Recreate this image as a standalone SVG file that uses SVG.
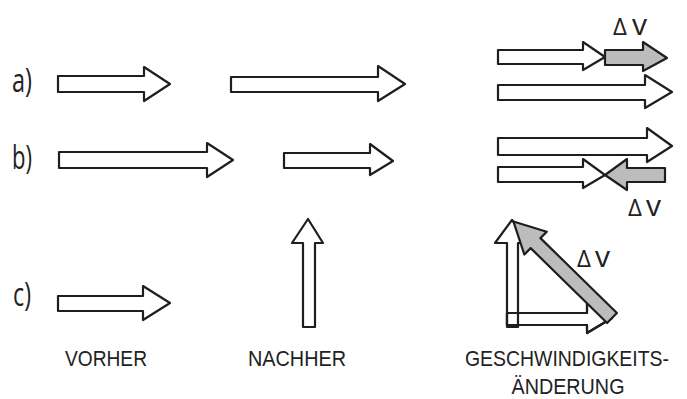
<svg xmlns="http://www.w3.org/2000/svg" width="687" height="399" viewBox="0 0 687 399">
<style>
.w{fill:#fff;stroke:#1e1e1e;stroke-width:2.2;stroke-linejoin:round}
.g{fill:#bcbcbc;stroke:#1e1e1e;stroke-width:2.2;stroke-linejoin:round}
.o{fill:none;stroke:#1e1e1e;stroke-width:2.2;stroke-linejoin:round}
.lbl{font-family:"Open Sans","Liberation Sans",sans-serif;font-weight:400;fill:#222}
.cap{font-family:"Liberation Sans",Arial,sans-serif;font-weight:400;fill:#222;font-size:21.5px}
.dv{font-family:"Open Sans","Liberation Sans",sans-serif;font-weight:400;fill:#222;font-size:24px}
</style>
<rect width="687" height="399" fill="#fff"/>
<g id="labels">
<text class="lbl" x="12" y="92" font-size="33" textLength="20" lengthAdjust="spacingAndGlyphs">a)</text>
<text class="lbl" x="12" y="169" font-size="33" textLength="20" lengthAdjust="spacingAndGlyphs">b)</text>
<text class="lbl" x="13" y="306" font-size="33" textLength="18" lengthAdjust="spacingAndGlyphs">c)</text>
<text class="cap" x="65" y="366" textLength="82" lengthAdjust="spacingAndGlyphs">VORHER</text>
<text class="cap" x="248" y="366" textLength="98" lengthAdjust="spacingAndGlyphs">NACHHER</text>
<text class="cap" x="567" y="366" text-anchor="middle" textLength="204" lengthAdjust="spacingAndGlyphs">GESCHWINDIGKEITS-</text>
<text class="cap" x="568" y="394" text-anchor="middle" textLength="113" lengthAdjust="spacingAndGlyphs">ÄNDERUNG</text>
</g>
<g id="row-a">
<polygon id="a-vorher" class="w" points="58,76 144,76 144,67 170,84 144,101 144,92 58,92"/>
<polygon id="a-nachher" class="w" points="231,77 378,77 378,66 405,84 378,101 378,92 231,92"/>
<polygon id="a-r1" class="w" points="498,50 583,50 583,42 605,57 583,70 583,64 498,64"/>
<polygon id="a-dv" class="g" points="605,50 643,50 643,42 667,58 643,71 643,65 605,65"/>
<polygon id="a-r2" class="w" points="498,85 645,85 645,75 672,92 645,108 645,100 498,100"/>
<text class="dv" x="613" y="35">Δ<tspan dx="5" font-size="30">v</tspan></text>
</g>
<g id="row-b">
<polygon id="b-vorher" class="w" points="59,152 207,152 207,143 233,160 207,177 207,168 59,168"/>
<polygon id="b-nachher" class="w" points="284,153 370,153 370,144 393,161 370,175 370,168 284,168"/>
<polygon id="b-r1" class="w" points="498,138 647,138 647,128 672,146 647,162 647,155 498,155"/>
<polygon id="b-dv" class="g" points="665,168 627,168 627,159 605,175 627,190 627,182 665,182"/>
<polygon id="b-r2" class="w" points="498,167 583,167 583,159 605,175 583,188 583,182 498,182"/>
<text class="dv" x="628" y="216">Δ<tspan dx="4" font-size="30">v</tspan></text>
</g>
<g id="row-c">
<polygon id="c-vorher" class="w" points="58,296 143,296 143,286 170,303 143,320 143,311 58,311"/>
<polygon id="c-nachher" class="w" points="303,327 303,243 292,243 308,219 323,243 315,243 315,327"/>
<polygon id="c-r-h" class="w" points="507,313 587,313 587,302 612,318 587,333 587,325 507,325"/>
<polygon id="c-r-v" class="w" points="507,327 507,243 495,243 512,220 530,243 518,243 518,327"/>
<polygon class="o" points="507,313 587,313 587,302 612,318 587,333 587,325 507,325"/>
<polygon id="c-dv" class="g" transform="translate(612,318) rotate(-135.6)" points="0,-7 107,-7 107,-16 138,0 107,16 107,7 0,7"/>
<text class="dv" x="577" y="267">Δ<tspan dx="4" font-size="30">v</tspan></text>
</g>
</svg>
